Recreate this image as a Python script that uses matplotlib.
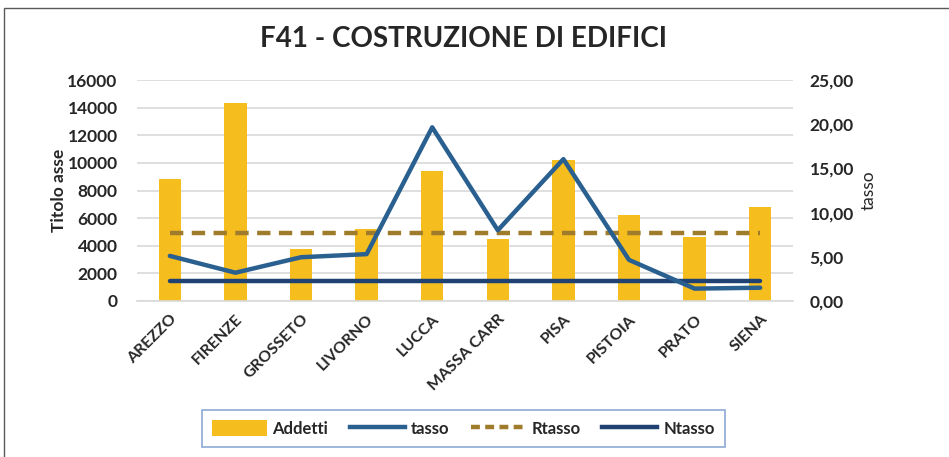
import matplotlib
matplotlib.use("Agg")
import matplotlib.pyplot as plt
from matplotlib.patches import Patch, Rectangle
from matplotlib.lines import Line2D
from matplotlib.ticker import FuncFormatter

# ── Data ─────────────────────────────────────────────────────────────────────
PROVINCE = ["AREZZO", "FIRENZE", "GROSSETO", "LIVORNO", "LUCCA",
            "MASSA CARR", "PISA", "PISTOIA", "PRATO", "SIENA"]
ADDETTI  = [8800, 14350, 3800, 5200, 9400, 4480, 10200, 6200, 4650, 6800]
TASSO    = [5.10, 3.20, 4.95, 5.30, 19.65, 8.00, 16.05, 4.65, 1.40, 1.50]
RTASSO   = [7.65] * len(PROVINCE)
NTASSO   = [2.30] * len(PROVINCE)

BAR_COL   = "#F6BD1F"
TASSO_COL = "#2A6090"
RT_COL    = "#9E7C2C"
NT_COL    = "#1F4272"
GRID_COL  = "#D9D9D9"
TXT_COL   = "#262626"

plt.rcParams["font.family"] = ["Lato", "DejaVu Sans"]

fig = plt.figure(figsize=(9.49, 4.57), dpi=100)
fig.patches.append(Rectangle((0.004, -0.05), 1.2, 1.033, transform=fig.transFigure,
                             fill=False, edgecolor="#595959", linewidth=1.0))

ax = fig.add_axes([0.1444, 0.3414, 0.6912, 0.4835])
x = list(range(len(PROVINCE)))

ax.bar(x, ADDETTI, width=0.34, color=BAR_COL, zorder=2)
ax.set_xlim(-0.5, len(PROVINCE) - 0.5)
ax.set_ylim(0, 16000)
ax.set_yticks(range(0, 16001, 2000))
ax.yaxis.grid(True, color=GRID_COL, linewidth=1.2, zorder=0)
ax.set_axisbelow(True)
for s in ["top", "right", "left"]:
    ax.spines[s].set_visible(False)
ax.spines["bottom"].set_color(GRID_COL)
ax.spines["bottom"].set_linewidth(1.2)
ax.tick_params(axis="both", length=0, colors=TXT_COL)
for lab in ax.get_yticklabels():
    lab.set_fontweight("bold")
    lab.set_fontsize(12.5)
ax.tick_params(axis="y", pad=14)
ax.set_xticks(x)
ax.set_xticklabels(PROVINCE, rotation=45, ha="right", rotation_mode="anchor",
                   fontsize=11.5, fontweight="bold", color=TXT_COL)
ax.tick_params(axis="x", pad=8)
ax.set_ylabel("Titolo asse", fontsize=12.5, fontweight="bold", color=TXT_COL, labelpad=0)

ax2 = ax.twinx()
ax2.set_ylim(0, 25)
ax2.set_yticks(range(0, 26, 5))
ax2.yaxis.set_major_formatter(FuncFormatter(lambda v, p: f"{v:.2f}".replace(".", ",")))
for s in ["top", "right", "left", "bottom"]:
    ax2.spines[s].set_visible(False)
ax2.tick_params(axis="y", length=0, colors=TXT_COL, pad=12)
for lab in ax2.get_yticklabels():
    lab.set_fontweight("bold")
    lab.set_fontsize(12.5)
ax2.set_ylabel("tasso", fontsize=12.5, color=TXT_COL, labelpad=5)

ax2.plot(x, RTASSO, color=RT_COL, linewidth=3.2, dashes=(3.0, 1.9), zorder=3)
ax2.plot(x, NTASSO, color=NT_COL, linewidth=3.2, solid_capstyle="round", zorder=3)
ax2.plot(x, TASSO, color=TASSO_COL, linewidth=3.2, solid_capstyle="round", zorder=4)

fig.text(0.488, 0.915, "F41 - COSTRUZIONE DI EDIFICI", ha="center", va="center",
         fontsize=20, fontweight="bold", color=TXT_COL)

handles = [
    Patch(facecolor=BAR_COL, label="Addetti"),
    Line2D([0], [0], color=TASSO_COL, linewidth=3.2, label="tasso"),
    Line2D([0], [0], color=RT_COL, linewidth=3.2, dashes=(2.0, 1.2), label="Rtasso"),
    Line2D([0], [0], color=NT_COL, linewidth=3.2, label="Ntasso"),
]
leg = fig.legend(handles=handles, loc="center", bbox_to_anchor=(0.488, 0.063), ncol=4,
                 frameon=True, fancybox=False, handlelength=3.3, handleheight=1.1,
                 handletextpad=0.35, columnspacing=1.3, borderpad=0.6,
                 prop={"weight": "bold", "size": 12})
leg.get_frame().set_edgecolor("#6F93C9")
leg.get_frame().set_linewidth(1.2)
for t in leg.get_texts():
    t.set_color(TXT_COL)

fig.savefig("out.png", dpi=100)
